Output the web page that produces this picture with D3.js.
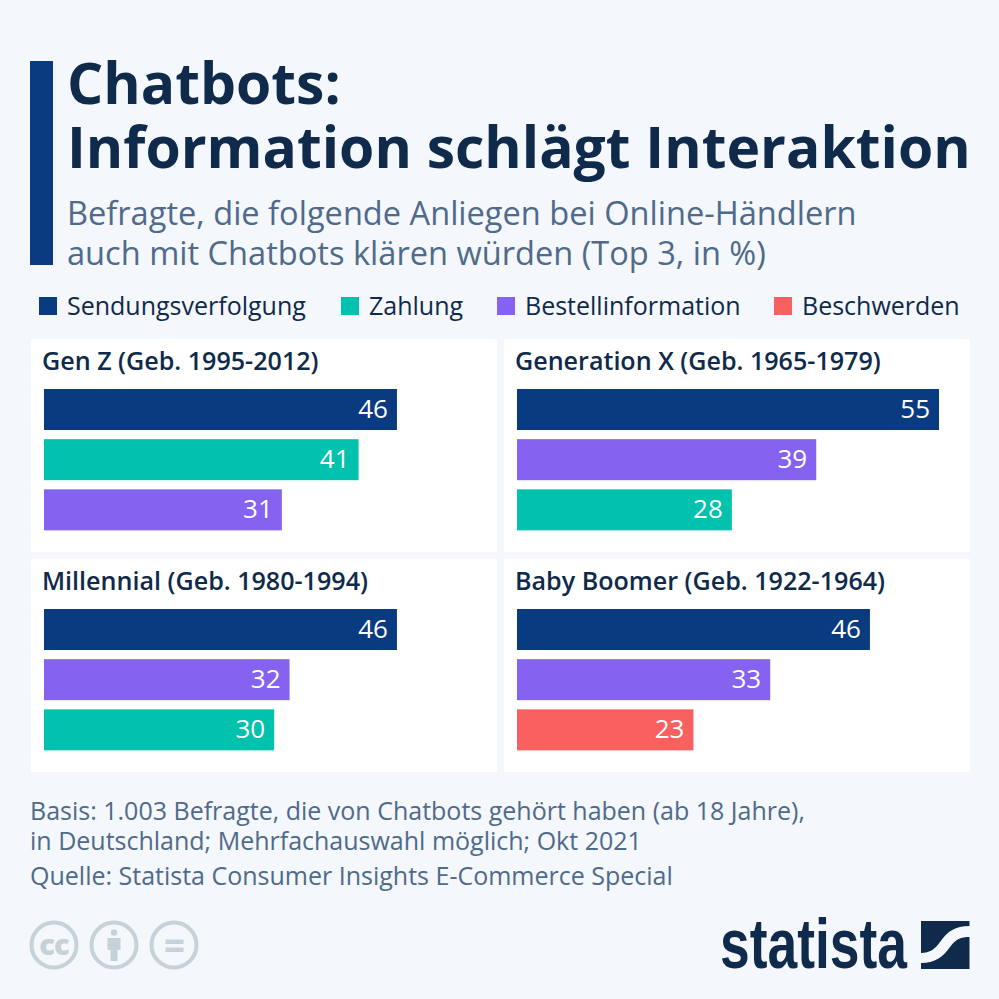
<!DOCTYPE html>
<html><head><meta charset="utf-8">
<script src="https://cdn.jsdelivr.net/npm/d3@7"></script>
<style>html,body{margin:0;padding:0;background:#f4f7fb}svg{display:block}text{font-family:"Open Sans",sans-serif}</style>
</head><body><svg id="c" width="999" height="999"></svg>
<script>
const titleLines=["Chatbots:","Information schlägt Interaktion"];
const subtitleLines=["Befragte, die folgende Anliegen bei Online-Händlern","auch mit Chatbots klären würden (Top 3, in %)"];
const legendLabels=["Sendungsverfolgung","Zahlung","Bestellinformation","Beschwerden"];
const legendColors=["#0a3a80","#00c2ad","#8562f0","#f96060"];
const legendX=[39,341,497,774];
const panelTitles=["Gen Z (Geb. 1995-2012)","Generation X (Geb. 1965-1979)","Millennial (Geb. 1980-1994)","Baby Boomer (Geb. 1922-1964)"];
const panelCats=[[0,1,2],[0,2,1],[0,2,1],[0,2,3]];
const panelVals=[[46,41,31],[55,39,28],[46,32,30],[46,33,23]];
const footLines=["Basis: 1.003 Befragte, die von Chatbots gehört haben (ab 18 Jahre),","in Deutschland; Mehrfachauswahl möglich; Okt 2021","Quelle: Statista Consumer Insights E-Commerce Special"];
const svg=d3.select("#c");
const ink="#0f2a4a",soft="#4f6a8a",icon="#c5d2da";
svg.append("rect").attr("x",30).attr("y",61).attr("width",23).attr("height",204).attr("fill","#0a3a80");
svg.selectAll(".t").data(titleLines).join("text").attr("x",67).attr("y",(d,i)=>[104,168][i]).attr("font-size",57).attr("font-weight",700).attr("fill",ink).text(d=>d);
svg.selectAll(".s").data(subtitleLines).join("text").attr("x",67).attr("y",(d,i)=>[225,265][i]).attr("font-size",32.6).attr("fill",soft).text(d=>d);
legendLabels.forEach((l,i)=>{
 svg.append("rect").attr("x",legendX[i]).attr("y",297).attr("width",18).attr("height",18).attr("fill",legendColors[i]);
 svg.append("text").attr("x",legendX[i]+28).attr("y",315).attr("font-size",25).attr("fill",ink).text(l);
});
const px=[31,504],py=[339,559];
const x=d3.scaleLinear().domain([0,55]).range([0,422]);
panelTitles.forEach((t,i)=>{
 const ox=px[i%2],oy=py[i>>1];
 const g=svg.append("g").attr("transform",`translate(${ox},${oy})`);
 g.append("rect").attr("width",466).attr("height",213).attr("fill","#fff");
 g.append("text").attr("x",11).attr("y",31).attr("font-size",25.1).attr("font-weight",600).attr("fill",ink).text(t);
 const y=d3.scaleBand().domain([0,1,2]).range([50,190.5]).paddingInner(0.2);
 panelVals[i].forEach((v,j)=>{
  g.append("rect").attr("x",13).attr("y",y(j)).attr("width",x(v)).attr("height",41).attr("fill",legendColors[panelCats[i][j]]);
  g.append("text").attr("x",13+x(v)-9).attr("y",y(j)+29).attr("text-anchor","end").attr("font-size",26).attr("font-weight",500).attr("fill","#fff").text(v);
 });
});
svg.selectAll(".f").data(footLines).join("text").attr("x",30).attr("y",(d,i)=>[820,850,885][i]).attr("font-size",25).attr("fill",soft).text(d=>d);

// licence icons
[54,114,174].forEach(cx=>svg.append("circle").attr("cx",cx).attr("cy",945).attr("r",22.5).attr("fill","none").attr("stroke",icon).attr("stroke-width",4));
svg.append("text").attr("x",54).attr("y",955).attr("text-anchor","middle").attr("font-size",29).attr("font-weight",800).attr("letter-spacing",-1).attr("fill",icon).text("cc");
svg.append("circle").attr("cx",114).attr("cy",932.5).attr("r",3.2).attr("fill",icon);
svg.append("path").attr("d","M107.5 938h13v12h-3v11h-7v-11h-3z").attr("fill",icon);
svg.append("rect").attr("x",165.5).attr("y",939.5).attr("width",18).attr("height",4.5).attr("fill",icon);
svg.append("rect").attr("x",165.5).attr("y",947.5).attr("width",18).attr("height",4.5).attr("fill",icon);

// statista logo
const logo="#0f2a4a";
svg.append("text").attr("x",720).attr("y",968).attr("textLength",187).attr("lengthAdjust","spacingAndGlyphs")
 .style("font-family","'Liberation Sans Narrow','Liberation Sans',sans-serif").attr("font-size",71).attr("font-weight",700).attr("fill",logo).text("statista");
svg.append("path").attr("d","M921 921H969.5V926C955 926 948 931 940 942C935 949 930 953 921 953Z").attr("fill",logo);
svg.append("path").attr("d","M969.5 937V969H921V963C935 963 943 957 950 947C956 939 961 937 969.5 937Z").attr("fill",logo);
</script></body></html>
